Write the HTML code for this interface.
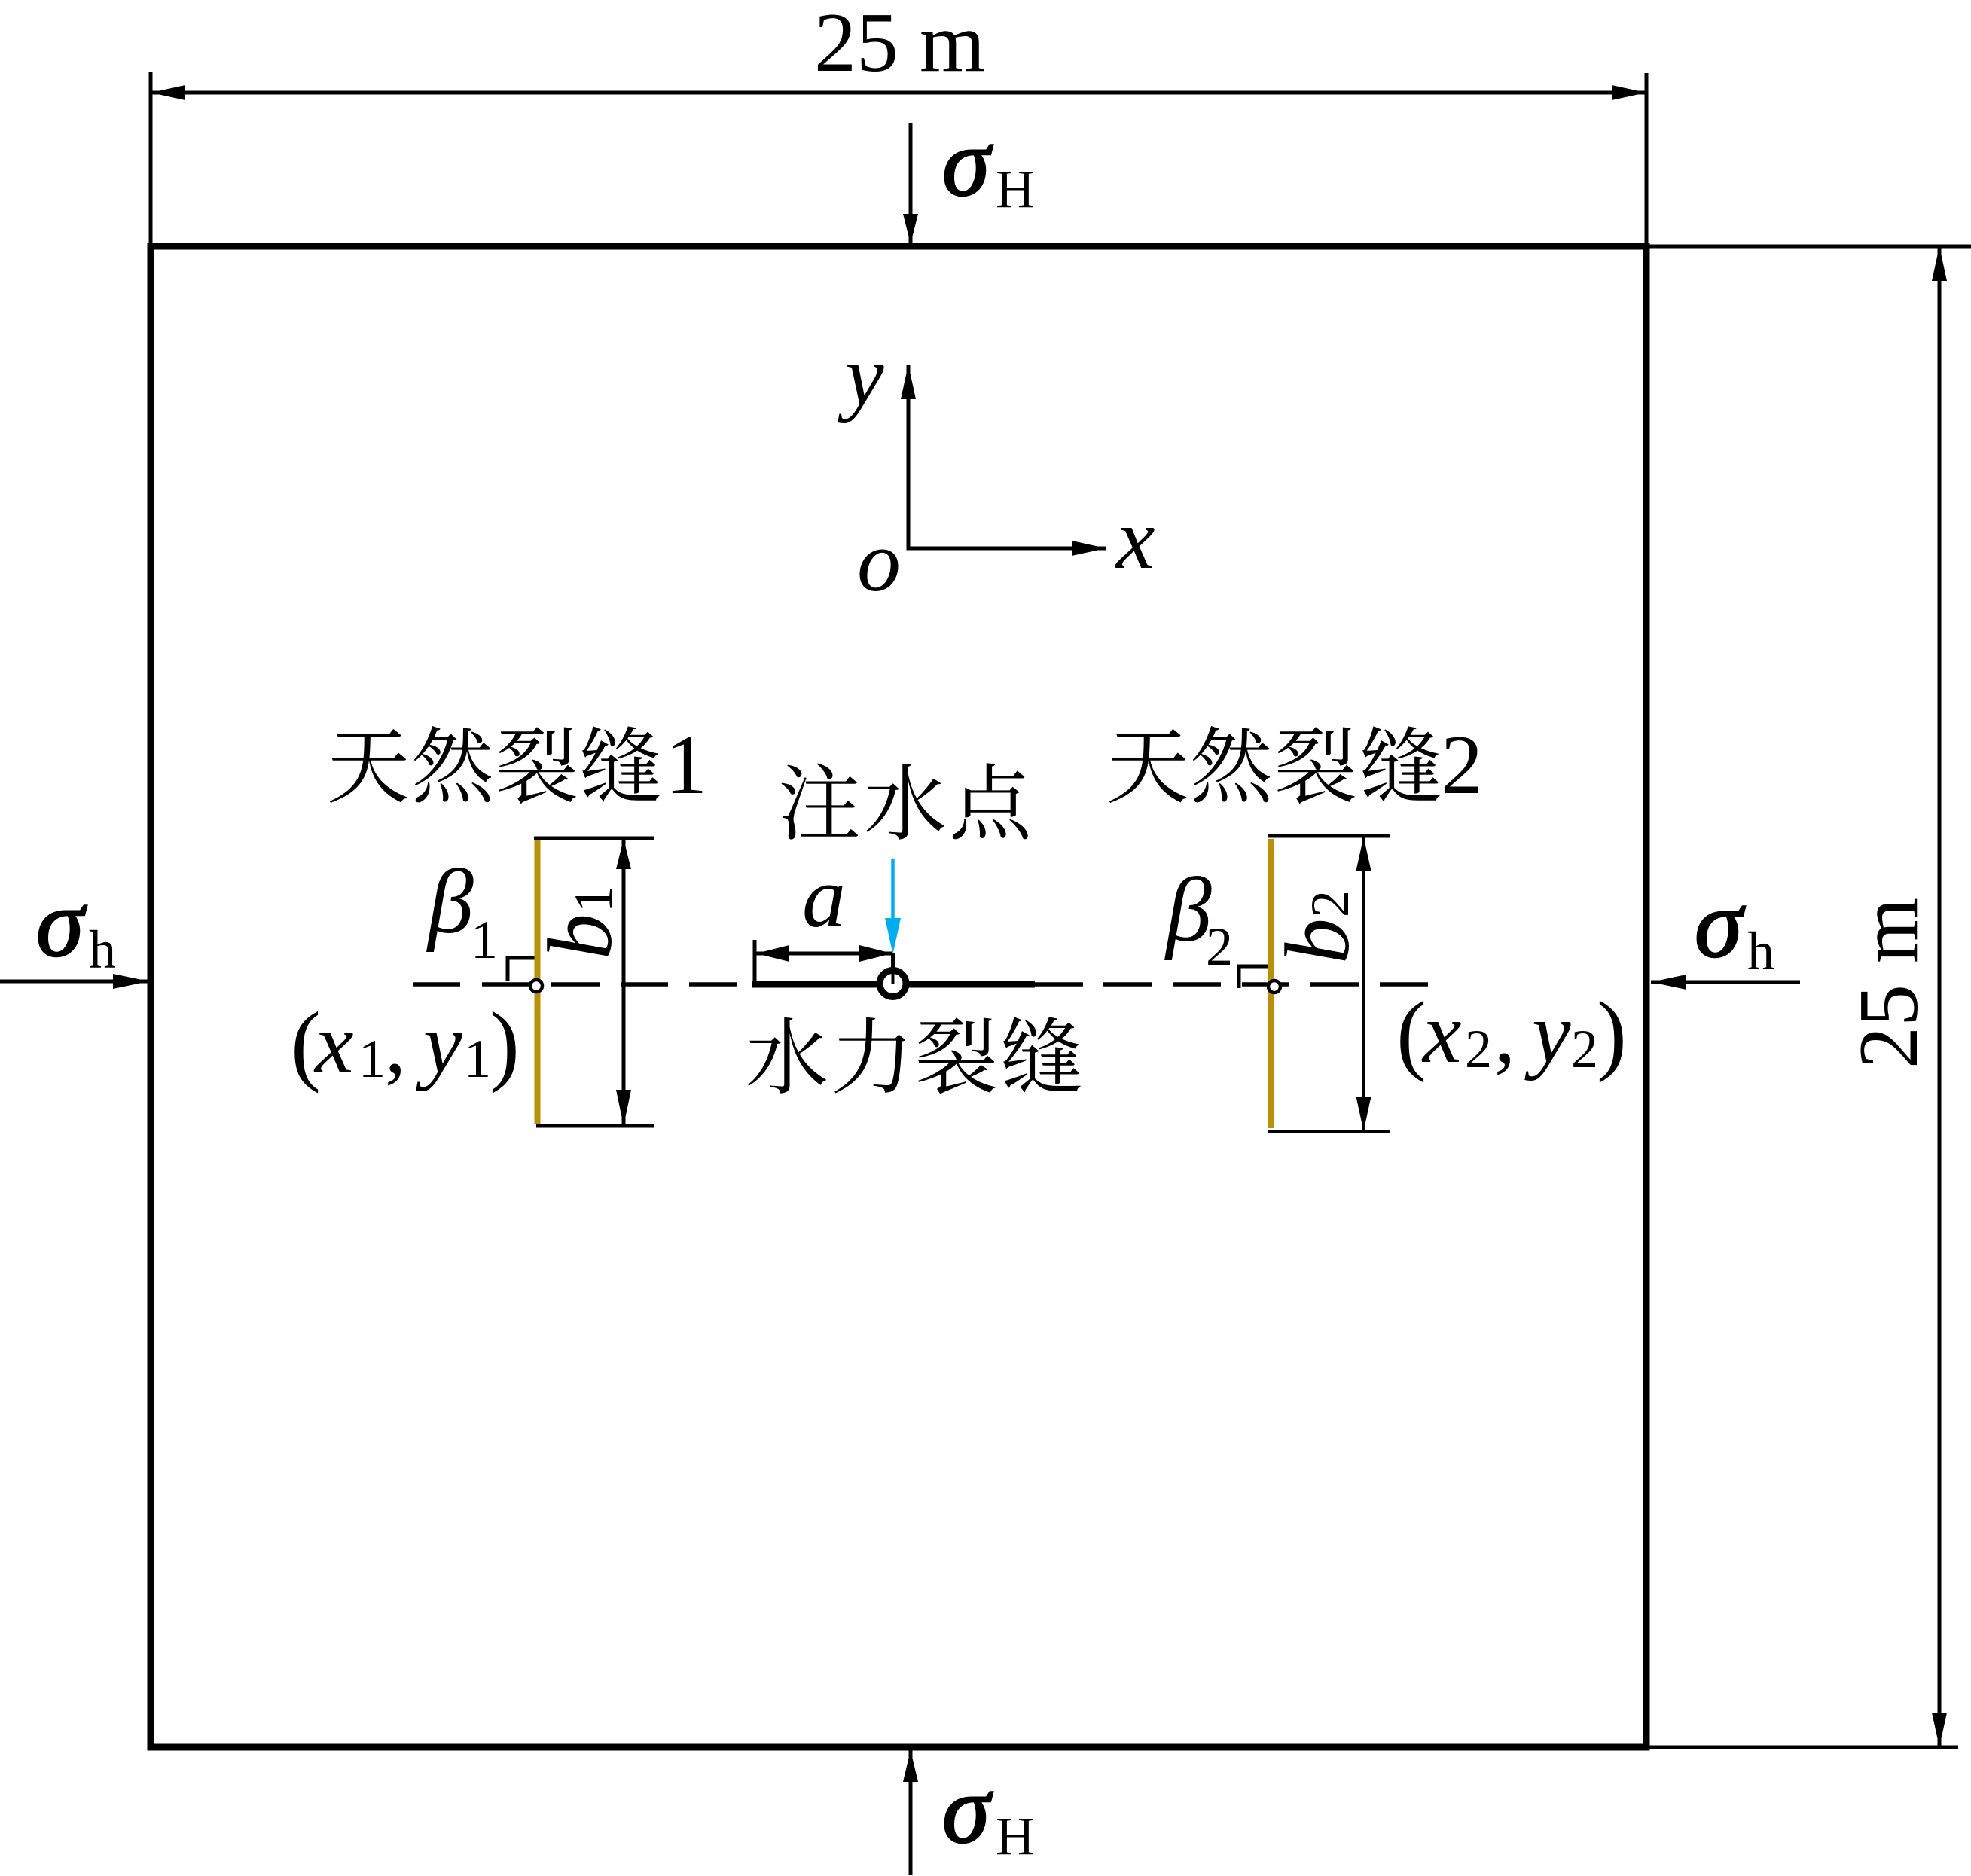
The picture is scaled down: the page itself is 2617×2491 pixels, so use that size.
<!DOCTYPE html>
<html><head><meta charset="utf-8"><style>
html,body{margin:0;padding:0;background:#fff}
svg{display:block}
.i{font-family:"Liberation Serif",serif;font-style:italic;font-size:116px;fill:#000}
.b{font-family:"Liberation Serif",serif;font-style:italic;font-size:122px;fill:#000}
.s{font-family:"Liberation Serif",serif;font-size:72px;fill:#000}
.g{font-family:"Liberation Serif",serif;font-style:italic;font-size:128px;fill:#000;stroke:#000;stroke-width:2.500px}
.c{font-family:"Noto Serif CJK SC","Liberation Serif",serif;font-size:110px;fill:#000}
.d{font-family:"Liberation Serif",serif;font-size:112px;fill:#000}
.p{font-family:"Liberation Serif",serif;font-size:120px;fill:#000}
</style></head><body>
<svg xmlns="http://www.w3.org/2000/svg" width="2617" height="2491" viewBox="0 0 2617 2491">
<rect width="2617" height="2491" fill="#fff"/>
<!-- box -->
<rect x="200" y="327" width="1986" height="1993" fill="none" stroke="#000" stroke-width="9"/>
<g stroke="#000" stroke-width="5" fill="none">
<!-- dims -->
<path d="M200 95V327M2186 97V327M200 123H2186"/>
<path d="M2186 327H2617M2186 2320H2600M2575 327V2320"/>
<!-- stress arrows -->
<path d="M1209 163V327M1209 2322V2490M0 1303H198M2192 1304H2390"/>
<!-- axes -->
<path d="M1206 484V728H1469"/>
<!-- b dims -->
<path d="M709 1113H868M712 1495H868M828 1114V1495M1683 1110H1846M1683 1502.500H1846M1810.500 1111V1502"/>
<!-- right angles -->
<path d="M674 1303V1272H716M1645 1312V1283H1687"/>
<!-- a dim -->
<path d="M1002 1248V1307M1004 1266H1185M1185.500 1266V1306"/>
</g>
<!-- arrowheads -->
<g fill="#000">
<polygon points="200,123 246,113 246,133"/>
<polygon points="2186,123 2140,113 2140,133"/>
<polygon points="2575,327 2565,373 2585,373"/>
<polygon points="2575,2320 2565,2274 2585,2274"/>
<polygon points="1209,324 1199,284 1219,284"/>
<polygon points="1209,2324 1199,2366 1219,2366"/>
<polygon points="198,1303 150,1293 150,1313"/>
<polygon points="2192,1304 2239,1294 2239,1314"/>
<polygon points="1206,484 1196,530 1216,530"/>
<polygon points="1469,728 1423,718 1423,738"/>
<polygon points="828,1114 818,1154 838,1154"/>
<polygon points="828,1495 818,1447 838,1447"/>
<polygon points="1810.500,1111 1800.500,1156 1820.500,1156"/>
<polygon points="1810.500,1502 1800.500,1456 1820.500,1456"/>
<polygon points="1004,1266 1048,1255 1048,1277"/>
<polygon points="1185,1266 1141,1255 1141,1277"/>
</g>
<!-- centre line dashes -->
<g stroke="#000" stroke-width="5.500" fill="none">
<path d="M548 1307H611M640 1307H703M731 1307H796M824 1307H887M915 1307H979"/>
<path d="M1374 1307H1438M1465 1307H1530M1557 1307H1621M1649 1307H1712M1740 1307H1804M1832 1307H1896"/>
</g>
<path d="M999 1307H1374" stroke="#000" stroke-width="9" fill="none"/>
<!-- natural fractures -->
<path d="M713.500 1116V1493" stroke="#b8900a" stroke-width="8" fill="none"/>
<path d="M1687 1114V1498" stroke="#b8900a" stroke-width="8" fill="none"/>
<circle cx="712" cy="1309" r="8" fill="#fff" stroke="#000" stroke-width="4.500"/>
<circle cx="1692" cy="1310" r="8" fill="#fff" stroke="#000" stroke-width="4.500"/>
<!-- injection point -->
<circle cx="1185.500" cy="1306" r="17.500" fill="#fff" stroke="#000" stroke-width="9"/>
<path d="M1185.500 1288V1306" stroke="#000" stroke-width="4"/>
<path d="M1185.500 1140V1225" stroke="#00aeef" stroke-width="4.500"/>
<polygon points="1185.500,1267 1175,1219 1196,1219" fill="#00aeef"/>
<!-- labels -->
<text class="d" x="1081" y="94">25 m</text>
<text class="d" transform="translate(2545 1419) rotate(-90)">25 m</text>

<text class="g" x="1251" y="259">σ</text><text class="s" x="1322" y="275">H</text>
<text class="g" x="1251" y="2446">σ</text><text class="s" x="1322" y="2462">H</text>
<text class="g" x="48" y="1269">σ</text><text class="s" x="118" y="1285">h</text>
<text class="g" x="2250" y="1270">σ</text><text class="s" x="2320" y="1287">h</text>

<text class="i" x="1122" y="537">y</text>
<text class="i" x="1482" y="754">x</text>
<text class="i" x="1138" y="784">o</text>
<text class="i" x="1065" y="1230">a</text>

<text class="c" x="434 546 658 769" y="1057">天然裂缝</text>
<text class="d" x="883" y="1053">1</text>
<text class="c" x="1469 1580 1692 1805" y="1057">天然裂缝</text>
<text class="d" x="1913" y="1053">2</text>
<text class="c" x="1033 1147 1260" y="1106">注水点</text>
<text class="c" x="990 1103 1215 1328" y="1443">水力裂缝</text>

<text class="b" x="568" y="1238">β</text><text class="s" x="625" y="1272">1</text>
<text class="b" x="1548" y="1249">β</text><text class="s" x="1601" y="1281">2</text>

<text class="b" transform="translate(811 1274) rotate(-90)">b</text>
<text class="s" transform="translate(812 1212) rotate(-90)">1</text>
<text class="b" transform="translate(1790 1280) rotate(-90)">b</text>
<text class="s" transform="translate(1790 1218) rotate(-90)">2</text>

<text class="p" x="386" y="1426">(</text>
<text class="i" x="418" y="1424">x</text>
<text class="s" x="476" y="1430">1</text>
<text class="d" x="511" y="1424">,</text>
<text class="i" x="562" y="1424">y</text>
<text class="s" x="616" y="1430">1</text>
<text class="p" x="650" y="1426">)</text>

<text class="p" x="1854" y="1412">(</text>
<text class="i" x="1889" y="1410">x</text>
<text class="s" x="1945" y="1417">2</text>
<text class="d" x="1984" y="1410">,</text>
<text class="i" x="2034" y="1410">y</text>
<text class="s" x="2086" y="1417">2</text>
<text class="p" x="2120" y="1412">)</text>
</svg>
</body></html>
